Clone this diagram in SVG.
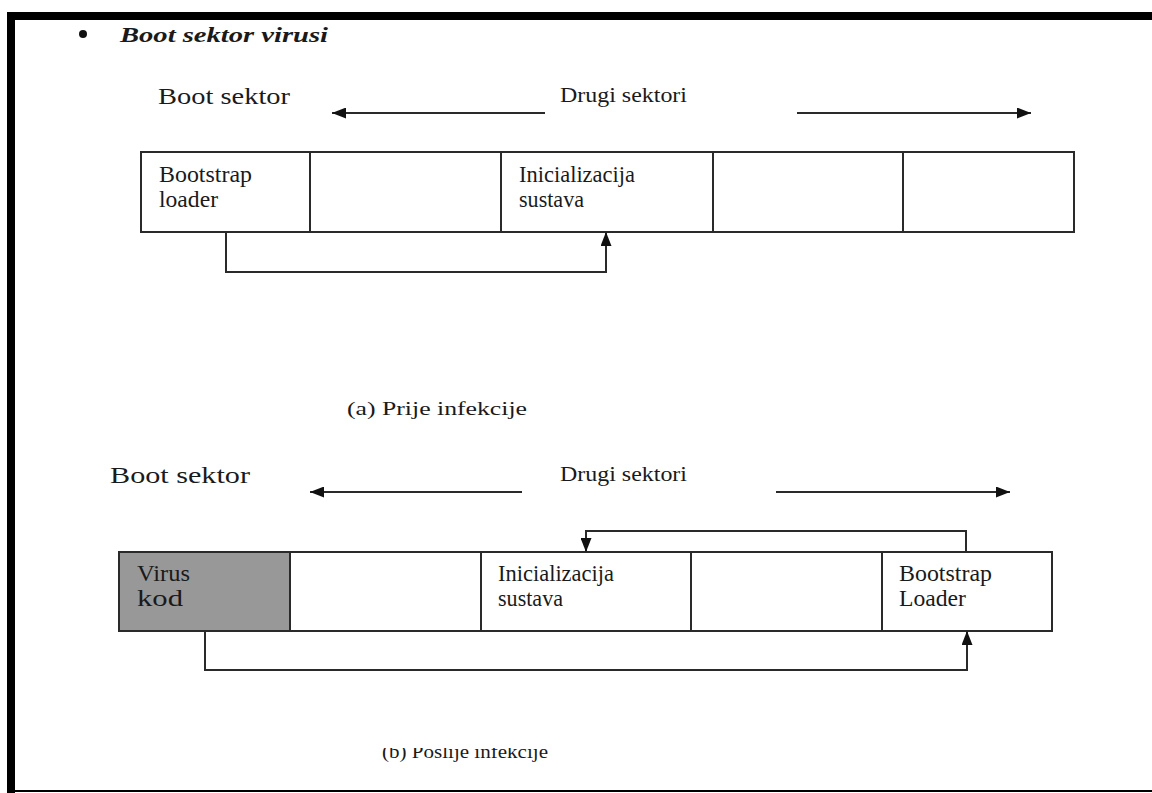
<svg xmlns="http://www.w3.org/2000/svg" width="1152" height="793" viewBox="0 0 1152 793" font-family="'Liberation Serif', 'DejaVu Serif', serif">
<defs>
<marker id="ah" viewBox="0 0 14 11" refX="14" refY="5.5" markerWidth="14" markerHeight="11" markerUnits="userSpaceOnUse" orient="auto">
<path d="M0,0 L14,5.5 L0,11 z" fill="#111"/>
</marker>
<clipPath id="capclip"><rect x="300" y="748" width="400" height="40"/></clipPath>
</defs>
<style>
text { font-family: "Liberation Serif", "DejaVu Serif", serif; fill: #1a1a1a; }
.box { fill: #ffffff; stroke: #2a2a2a; stroke-width: 2; }
.gray { fill: #989898; stroke: #2a2a2a; stroke-width: 2; }
.con { fill: none; stroke: #2a2a2a; stroke-width: 2; }
.lbl { font-size: 23px; }
.hdr { font-size: 23px; }
.sec { font-size: 21px; }
.cap { font-size: 19px; }
</style>
<rect x="0" y="0" width="1152" height="793" fill="#ffffff"/>
<g id="border">
<rect x="7" y="12" width="1145" height="8" fill="#000"/>
<rect x="7" y="12" width="8" height="781" fill="#000"/>
<rect x="7" y="790" width="1145" height="2" fill="#000"/>
</g>
<g id="title">
<circle cx="83" cy="34" r="4" fill="#111"/>
<text x="120" y="42" font-size="22" font-weight="bold" font-style="italic" textLength="208" lengthAdjust="spacingAndGlyphs">Boot sektor virusi</text>
</g>
<g id="diagram-a">
<text class="hdr" x="158" y="104" textLength="132" lengthAdjust="spacingAndGlyphs">Boot sektor</text>
<text class="sec" x="560" y="102" textLength="127" lengthAdjust="spacingAndGlyphs">Drugi sektori</text>
<g id="a-sec1"><rect class="box" x="141" y="152" width="169" height="80"/>
<text class="lbl" x="159" y="182" textLength="93" lengthAdjust="spacingAndGlyphs">Bootstrap</text>
<text class="lbl" x="159" y="207" textLength="59" lengthAdjust="spacingAndGlyphs">loader</text></g>
<g id="a-sec2"><rect class="box" x="310" y="152" width="191" height="80"/></g>
<g id="a-sec3"><rect class="box" x="501" y="152" width="212" height="80"/>
<text class="lbl" x="519" y="182" textLength="116" lengthAdjust="spacingAndGlyphs">Inicializacija</text>
<text class="lbl" x="519" y="207" textLength="65" lengthAdjust="spacingAndGlyphs">sustava</text></g>
<g id="a-sec4"><rect class="box" x="713" y="152" width="190" height="80"/></g>
<g id="a-sec5"><rect class="box" x="903" y="152" width="171" height="80"/></g>
<text class="cap" x="347" y="415" textLength="180" lengthAdjust="spacingAndGlyphs">(a) Prije infekcije</text>
</g>
<g id="diagram-b">
<text class="hdr" x="110" y="483" textLength="140" lengthAdjust="spacingAndGlyphs">Boot sektor</text>
<text class="sec" x="560" y="481" textLength="127" lengthAdjust="spacingAndGlyphs">Drugi sektori</text>
<g id="b-sec1"><rect class="gray" x="119" y="552" width="171" height="79"/>
<text class="lbl" x="137" y="581" textLength="53" lengthAdjust="spacingAndGlyphs">Virus</text>
<text class="lbl" x="137" y="606" textLength="46" lengthAdjust="spacingAndGlyphs">kod</text></g>
<g id="b-sec2"><rect class="box" x="290" y="552" width="191" height="79"/></g>
<g id="b-sec3"><rect class="box" x="481" y="552" width="210" height="79"/>
<text class="lbl" x="498" y="581" textLength="116" lengthAdjust="spacingAndGlyphs">Inicializacija</text>
<text class="lbl" x="498" y="606" textLength="65" lengthAdjust="spacingAndGlyphs">sustava</text></g>
<g id="b-sec4"><rect class="box" x="691" y="552" width="191" height="79"/></g>
<g id="b-sec5"><rect class="box" x="882" y="552" width="170" height="79"/>
<text class="lbl" x="899" y="581" textLength="93" lengthAdjust="spacingAndGlyphs">Bootstrap</text>
<text class="lbl" x="899" y="606" textLength="67" lengthAdjust="spacingAndGlyphs">Loader</text></g>
<text class="cap" x="382" y="758" textLength="166" lengthAdjust="spacingAndGlyphs" clip-path="url(#capclip)">(b) Poslije infekcije</text>
</g>
<g id="connectors">
<line class="con" x1="545" y1="113" x2="332" y2="113" marker-end="url(#ah)"/>
<line class="con" x1="797" y1="113" x2="1031" y2="113" marker-end="url(#ah)"/>
<polyline class="con" points="226,232 226,272 606,272 606,232" marker-end="url(#ah)"/>
<line class="con" x1="522" y1="492" x2="310" y2="492" marker-end="url(#ah)"/>
<line class="con" x1="776" y1="492" x2="1010" y2="492" marker-end="url(#ah)"/>
<polyline class="con" points="966,552 966,531 586,531 586,552" marker-end="url(#ah)"/>
<polyline class="con" points="205,631 205,670 967,670 967,631" marker-end="url(#ah)"/>
</g>
</svg>
